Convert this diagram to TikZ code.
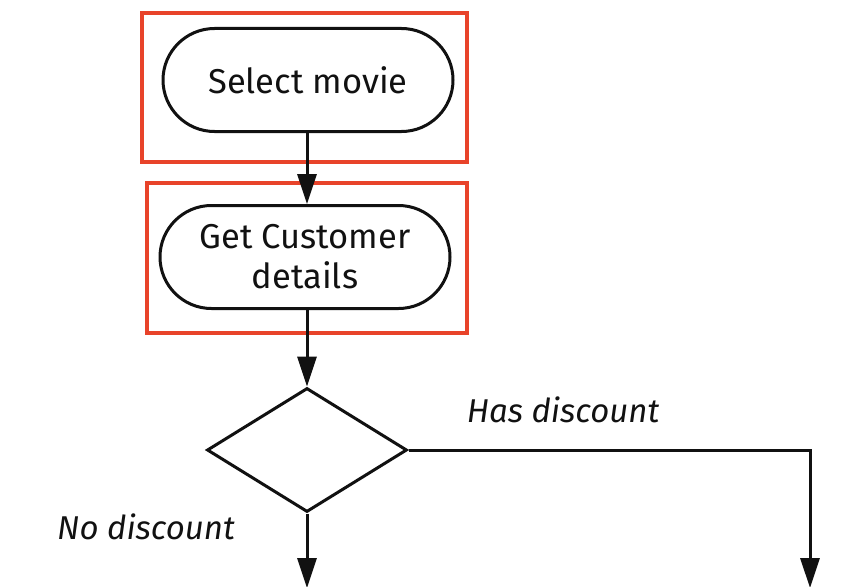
\documentclass[tikz,border=0pt]{standalone}
\usepackage{fontspec}
\setmainfont{Fira Sans}
\usetikzlibrary{shapes.misc,shapes.geometric,arrows.meta}
\definecolor{hl}{HTML}{E8432A}
\definecolor{ink}{HTML}{111111}
\tikzset{
  pill/.style={rounded rectangle, draw=ink, line width=3pt, minimum width=290pt, minimum height=103pt, inner sep=0pt, align=center, font=\fontsize{34.5}{40}\selectfont, text=ink},
  hlbox/.style={rectangle, draw=hl, line width=4pt, inner sep=0pt},
  decision/.style={diamond, draw=ink, line width=3pt, aspect=1.613, minimum width=200pt, minimum height=124pt, inner sep=0pt},
  flow/.style={draw=ink, line width=3pt, -{Triangle[length=30pt,width=19pt]}},
  lbl/.style={font=\fontsize{33}{40}\selectfont\itshape, text=ink},
}
\begin{document}
\begin{tikzpicture}[x=1pt,y=-1pt]
\useasboundingbox (0,0) rectangle (864,586);
\node[hlbox, minimum width=325pt, minimum height=149pt] (h1) at (304.5,87.5) {};
\node[hlbox, minimum width=320pt, minimum height=150pt] (h2) at (307,258) {};
\node[pill] (p1) at (308,80) {Select movie};
\node[pill] (p2) at (305,257) {Get Customer\\details};
\node[decision] (d) at (307,450) {};
\coordinate (corner) at (810,450);
\coordinate (endR) at (810,588);
\coordinate (endL) at (307,588);
\draw[flow] (p1.south -| d.north) -- (p2.north -| d.north);
\draw[flow] (p2.south -| d.north) -- (d.north);
\draw[flow] (d.east) -- (corner) -- (endR);
\draw[flow] (d.south) -- (endL);
\node[lbl] (has) at (563,410) {Has discount};
\node[lbl] (no) at (146,527) {No discount};
\end{tikzpicture}
\end{document}
